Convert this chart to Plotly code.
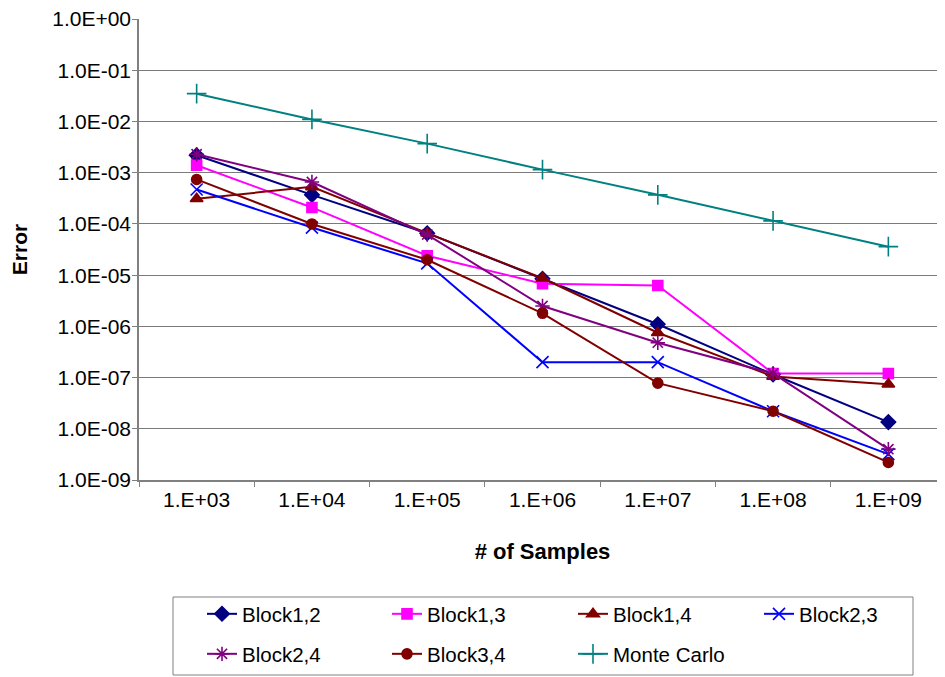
import plotly.graph_objects as go

categories = ["1.E+03", "1.E+04", "1.E+05", "1.E+06", "1.E+07", "1.E+08", "1.E+09"]

block12 = [2.2e-3, 3.7e-4, 6.6e-5, 8.5e-6, 1.1e-6, 1.15e-7, 1.35e-8]
block13 = [1.4e-3, 2.1e-4, 2.4e-5, 6.8e-6, 6.3e-6, 1.2e-7, 1.2e-7]
block14 = [3.1e-4, 5.3e-4, 6.6e-5, 8.7e-6, 7.5e-7, 1.05e-7, 7.4e-8]
block23 = [4.7e-4, 8.5e-5, 1.7e-5, 2.0e-7, 2.0e-7, 2.2e-8, 3.2e-9]
block24 = [2.3e-3, 6.6e-4, 6.2e-5, 2.5e-6, 4.8e-7, 1.2e-7, 4.0e-9]
block34 = [7.4e-4, 1.0e-4, 2.0e-5, 1.8e-6, 7.8e-8, 2.2e-8, 2.2e-9]
monte_carlo = [3.5e-2, 1.1e-2, 3.7e-3, 1.15e-3, 3.7e-4, 1.15e-4, 3.6e-5]

ytick_vals = [1e0, 1e-1, 1e-2, 1e-3, 1e-4, 1e-5, 1e-6, 1e-7, 1e-8, 1e-9]
ytick_text = ["1.0E+00", "1.0E-01", "1.0E-02", "1.0E-03", "1.0E-04",
              "1.0E-05", "1.0E-06", "1.0E-07", "1.0E-08", "1.0E-09"]

FONT = "Arial, 'Liberation Sans', sans-serif"

# page offset of the plot div (default body margin)
OFF = 8
W, H = 945, 677
# plot area in page pixels, converted to figure pixels
plot_l, plot_r, plot_t, plot_b = 139 - OFF, 946 - OFF, 19 - OFF, 480 - OFF
pw, ph = plot_r - plot_l, plot_b - plot_t

def px2x(px):
    return (px - OFF - plot_l) / pw

def py2y(py):
    return (plot_b - (py - OFF)) / ph

# legend cell positions (page pixels): text start x, row centre y
row_y = [614, 654]
col_x = [242, 427, 613, 799]

series = [
    ("Block1,2", block12, "#000080", "diamond", 11, 0, 0),
    ("Block1,3", block13, "#FF00FF", "square", 10, 0, 1),
    ("Block1,4", block14, "#800000", "triangle-up", 11, 0, 2),
    ("Block2,3", block23, "#0000FF", "x-thin-open", 12, 0, 3),
    ("Block2,4", block24, "#800080", "asterisk-open", 12, 1, 0),
    ("Block3,4", block34, "#800000", "circle", 10, 1, 1),
    ("Monte Carlo", monte_carlo, "#008080", "cross-thin-open", 14, 1, 2),
]

fig = go.Figure()
legends = {}
for i, (name, vals, color, sym, size, r, c) in enumerate(series):
    leg = "legend" if i == 0 else f"legend{i + 1}"
    fig.add_trace(go.Scatter(
        x=categories, y=vals, name=name, mode="lines+markers",
        line=dict(color=color, width=2),
        marker=dict(symbol=sym, size=size, color=color,
                    line=dict(color=color, width=1.6)),
        legend=leg,
    ))
    legends[leg] = dict(
        x=px2x(col_x[c] - 40), y=py2y(row_y[r]),
        xanchor="left", yanchor="middle", orientation="h",
        font=dict(family=FONT, size=20.5, color="black"),
        bgcolor="rgba(0,0,0,0)", borderwidth=0, itemsizing="trace",
    )

fig.update_layout(
    width=W, height=H,
    margin=dict(l=plot_l, r=W - plot_r, t=plot_t, b=H - plot_b, autoexpand=False),
    paper_bgcolor="white", plot_bgcolor="white",
    font=dict(family=FONT, size=21, color="black"),
    showlegend=True,
    xaxis=dict(
        type="category", range=[-0.5, 6.5],
        showgrid=False, showline=True, linecolor="#808080", linewidth=1.5,
        ticks="outside", tickson="boundaries", ticklen=5, tickcolor="#808080",
        tickfont=dict(family=FONT, size=21, color="black"),
        title=dict(text="<b># of Samples</b>", font=dict(family=FONT, size=22, color="black"),
                   standoff=34),
        zeroline=False,
    ),
    yaxis=dict(
        type="log", range=[-9, 0.002],
        tickvals=ytick_vals, ticktext=ytick_text, ticklabeloverflow="allow",
        ticklabelstandoff=-3,
        showgrid=True, gridcolor="#7a7a7a", gridwidth=1,
        showline=True, linecolor="#808080", linewidth=1.5,
        ticks="outside", ticklen=5, tickcolor="#808080",
        tickfont=dict(family=FONT, size=21, color="black"),
        title=dict(text="<b>Error</b>", font=dict(family=FONT, size=21, color="black"),
                   standoff=21),
        zeroline=False,
    ),
    shapes=[dict(
        type="rect", xref="paper", yref="paper",
        x0=px2x(173), x1=px2x(913), y0=py2y(597), y1=py2y(675),
        line=dict(color="#808080", width=1), fillcolor="rgba(0,0,0,0)",
    )],
    **legends,
)

fig.write_html("out.html")
